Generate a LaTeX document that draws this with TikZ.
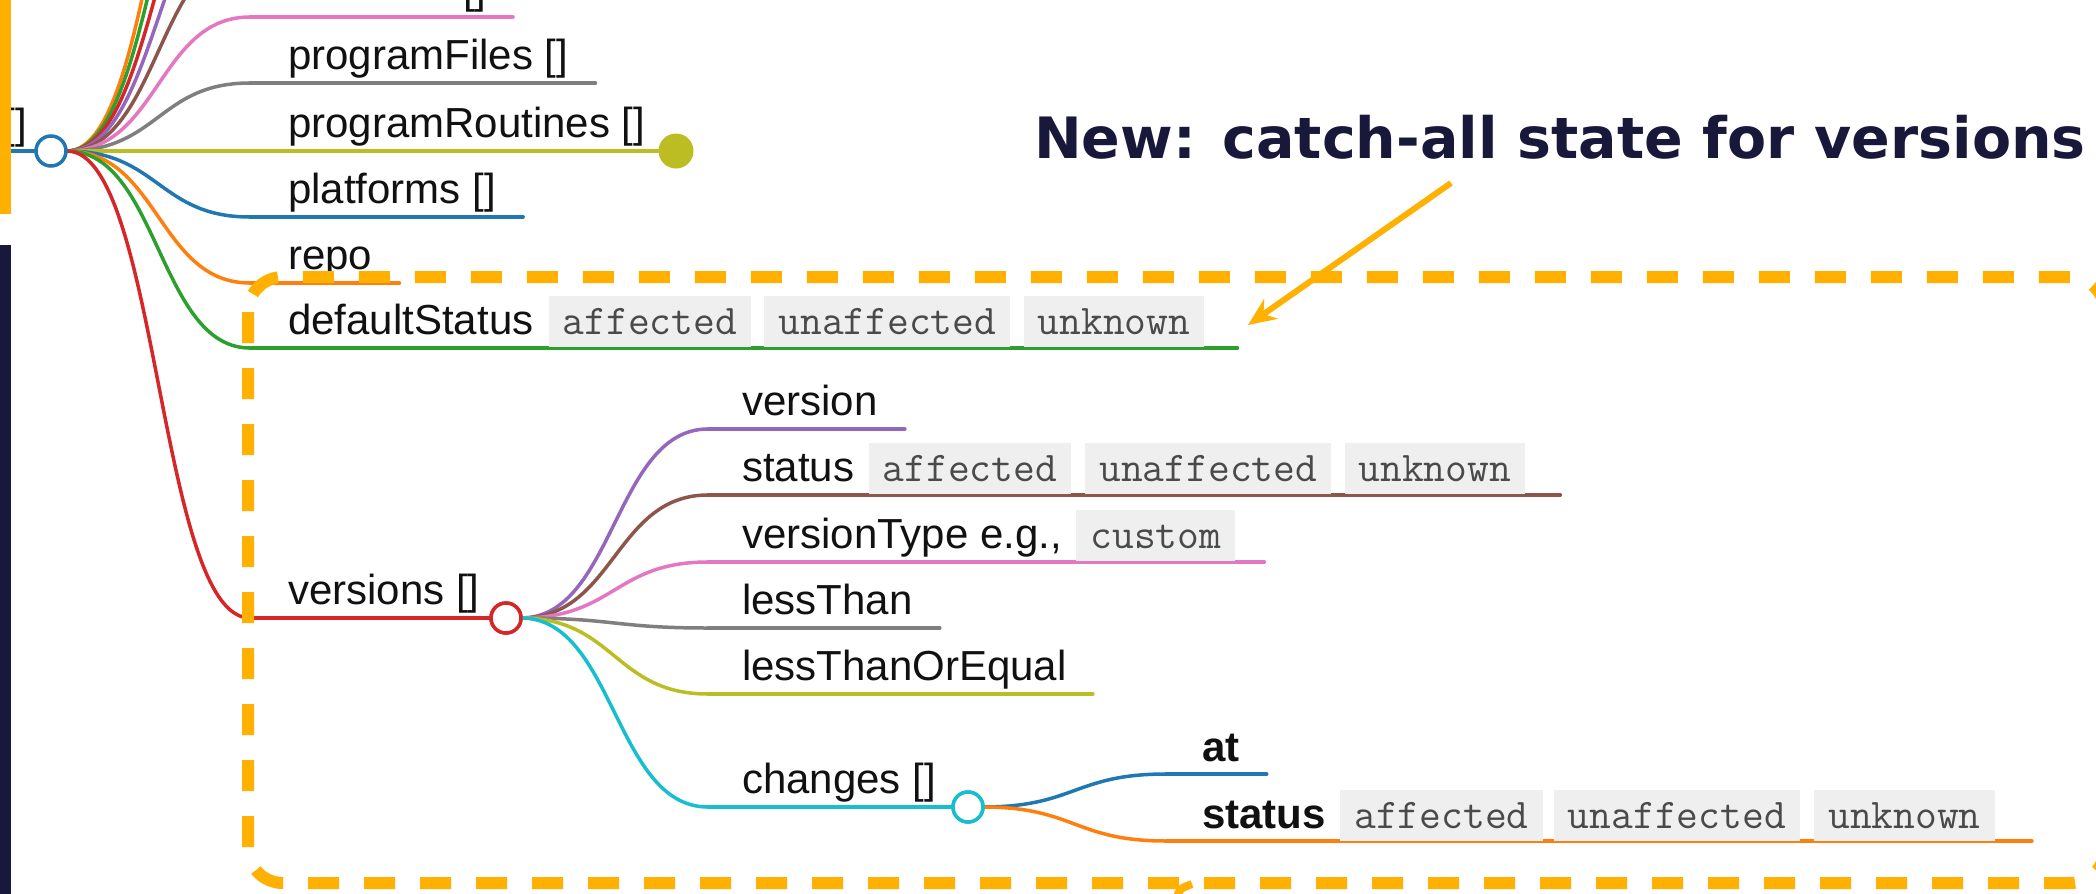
\documentclass[tikz,border=0pt]{standalone}
\usepackage{fontspec}
\setmainfont{Liberation Sans}
\newfontfamily\titlefam{DejaVu Sans}
\usetikzlibrary{calc,arrows.meta}

\definecolor{mmblue}{HTML}{1F77B4}
\definecolor{mmorange}{HTML}{FF7F0E}
\definecolor{mmgreen}{HTML}{2CA02C}
\definecolor{mmred}{HTML}{D62728}
\definecolor{mmpurple}{HTML}{9467BD}
\definecolor{mmbrown}{HTML}{8C564B}
\definecolor{mmpink}{HTML}{E377C2}
\definecolor{mmgray}{HTML}{7F7F7F}
\definecolor{mmolive}{HTML}{BCBD22}
\definecolor{mmcyan}{HTML}{17BECF}
\definecolor{amber}{HTML}{FFB000}
\definecolor{navy}{HTML}{18183A}
\definecolor{chipfill}{HTML}{EFEFEF}
\definecolor{chiptext}{HTML}{4A4A4A}
\definecolor{ink}{HTML}{111111}

% horizontal tree link: cubic with both controls at the mid x
\newcommand\mmlink[3]{\draw[branch,#1] (#2) .. controls ($(#2)!.5!(#2 -| #3)$) and ($(#3 -| #2)!.5!(#3)$) .. (#3);}
\newcommand\chipfont{\ttfamily\addfontfeature{FakeBold=1.5}\fontsize{42.3}{50}\selectfont}

\tikzset{
  branch/.style={line width=3.5pt, line cap=round},
  lbl/.style={inner sep=0pt, anchor=base west, text=ink, font=\fontsize{42}{50}\selectfont},
  blbl/.style={lbl, font=\bfseries\fontsize{42}{50}\selectfont},
  chip/.style={anchor=base west, fill=chipfill, text=chiptext, inner xsep=14pt, inner ysep=0pt,
    text height=38pt, text depth=13pt, font=\chipfont},
  hubdot/.style={circle, fill=white, line width=3.5pt, minimum size=30pt, inner sep=0pt},
  dashbox/.style={amber, line width=12pt, dash pattern=on 31pt off 25pt, rounded corners=35pt},
}

\begin{document}
\begin{tikzpicture}[x=1pt,y=-1pt]
\useasboundingbox (0,0) rectangle (2096,894);
\fill[white] (0,0) rectangle (2096,894);

% ---------- root ----------
\coordinate (rootE) at (67,151);
\coordinate (rootW) at (-10,151);
\draw[branch, mmblue] (rootW) -- (51,151);

% branches leaving through the top
\coordinate (kOr) at (250,-315);
\coordinate (kGr) at (250,-249);
\coordinate (kRd) at (250,-182);
\coordinate (kPu) at (250,-116);
\coordinate (kBr) at (250,-49);
\mmlink{mmorange}{rootE}{kOr}
\mmlink{mmgreen}{rootE}{kGr}
\mmlink{mmred}{rootE}{kRd}
\mmlink{mmpurple}{rootE}{kPu}
\mmlink{mmbrown}{rootE}{kBr}

% modules (pink)
\coordinate (mdA) at (250,17);
\coordinate (mdB) at (513,17);
\mmlink{mmpink}{rootE}{mdA}
\draw[branch, mmpink] (mdA) -- (mdB);
\node[lbl] (mdT) at (463,3) {[]};

% programFiles
\coordinate (pfA) at (250,83);
\node[lbl] (pfT) at (288,69) {programFiles []};
\mmlink{mmgray}{rootE}{pfA}
\draw[branch, mmgray] (pfA) -- ($(pfT.base east)+(27,14)$);

% programRoutines (collapsed)
\node[lbl] (prT) at (288,137) {programRoutines []};
\coordinate (prEnd) at (676,151);
\draw[branch, mmolive] (rootE) -- (prEnd);
\node[circle, fill=mmolive, minimum size=35pt, inner sep=0pt] (prDot) at (prEnd) {};

% platforms
\coordinate (plA) at (250,217);
\node[lbl] (plT) at (288,203) {platforms []};
\mmlink{mmblue}{rootE}{plA}
\draw[branch, mmblue] (plA) -- ($(plT.base east)+(27,14)$);

% repo
\coordinate (rpA) at (250,283);
\node[lbl] (rpT) at (288,269) {repo};
\mmlink{mmorange}{rootE}{rpA}
\draw[branch, mmorange] (rpA) -- ($(rpT.base east)+(27,14)$);

% defaultStatus
\coordinate (dsA) at (250,348);
\node[lbl] (dsT) at (288,334) {defaultStatus};
\mmlink{mmgreen}{rootE}{dsA}
\node[chip] (ds1) at ($(dsT.base east)+(15,0)$) {affected};
\node[chip] (ds2) at ($(ds1.base east)+(13,0)$) {unaffected};
\node[chip] (ds3) at ($(ds2.base east)+(13,0)$) {unknown};
\draw[branch, mmgreen] (dsA) -- ($(ds3.base east)+(33,14)$);
\node[chip] at (ds1.base west) {affected};
\node[chip] at (ds2.base west) {unaffected};
\node[chip] at (ds3.base west) {unknown};

% versions
\coordinate (vsA) at (250,618);
\node[lbl] (vsT) at (288,604) {versions []};
\mmlink{mmred}{rootE}{vsA}
\node[hubdot, draw=mmred] (vs) at (506,618) {};
\draw[branch, mmred] (vsA) -- (vs.west);

% root hub drawn over its links
\node[hubdot, draw=mmblue] (root) at (51,151) {};
\node[lbl, anchor=base east] (rootT) at (27,138) {[]};

% ---------- versions children ----------
\coordinate (vsE) at (521,618);
\coordinate (veA) at (708,429);
\coordinate (stA) at (708,495);
\coordinate (vtA) at (708,562);
\coordinate (ltA) at (708,628);
\coordinate (leA) at (708,694);
\coordinate (chA) at (708,807);
\mmlink{mmpurple}{vsE}{veA}
\mmlink{mmbrown}{vsE}{stA}
\mmlink{mmpink}{vsE}{vtA}
\mmlink{mmgray}{vsE}{ltA}
\mmlink{mmolive}{vsE}{leA}
\mmlink{mmcyan}{vsE}{chA}
\node[hubdot, draw=mmred] at (vs) {};

\node[lbl] (veT) at (742,415) {version};
\draw[branch, mmpurple] (veA) -- ($(veT.base east)+(27,14)$);

\node[lbl] (stT) at (742,481) {status};
\node[chip] (st1) at ($(stT.base east)+(14,0)$) {affected};
\node[chip] (st2) at ($(st1.base east)+(14,0)$) {unaffected};
\node[chip] (st3) at ($(st2.base east)+(13,0)$) {unknown};
\draw[branch, mmbrown] (stA) -- ($(st3.base east)+(35,14)$);
\node[chip] at (st1.base west) {affected};
\node[chip] at (st2.base west) {unaffected};
\node[chip] at (st3.base west) {unknown};

\node[lbl] (vtT) at (742,548) {versionType e.g.,};
\node[chip] (vt1) at ($(vtT.base east)+(14,0)$) {custom};
\draw[branch, mmpink] (vtA) -- ($(vt1.base east)+(29,14)$);
\node[chip] at (vt1.base west) {custom};

\node[lbl] (ltT) at (742,614) {lessThan};
\draw[branch, mmgray] (ltA) -- ($(ltT.base east)+(27,14)$);

\node[lbl] (leT) at (742,680) {lessThanOrEqual};
\draw[branch, mmolive] (leA) -- ($(leT.base east)+(26,14)$);

\node[lbl] (chT) at (742,793) {changes []};
\node[hubdot, draw=mmcyan] (ch) at (968,807) {};
\draw[branch, mmcyan] (chA) -- (ch.west);

% ---------- changes children ----------
\coordinate (chE) at (983,807);
\coordinate (atA) at (1166,774);
\coordinate (csA) at (1166,841);
\mmlink{mmblue}{chE}{atA}
\mmlink{mmorange}{chE}{csA}
\node[hubdot, draw=mmcyan] at (ch) {};

\node[blbl] (atT) at (1202,761) {at};
\draw[branch, mmblue] (atA) -- ($(atT.base east)+(27,13)$);

\node[blbl] (csT) at (1202,828) {status};
\node[chip] (cs1) at ($(csT.base east)+(14,0)$) {affected};
\node[chip] (cs2) at ($(cs1.base east)+(11,0)$) {unaffected};
\node[chip] (cs3) at ($(cs2.base east)+(14,0)$) {unknown};
\draw[branch, mmorange] (csA) -- ($(cs3.base east)+(37,13)$);
\node[chip] at (cs1.base west) {affected};
\node[chip] at (cs2.base west) {unaffected};
\node[chip] at (cs3.base west) {unknown};

% ---------- highlight frame and callout ----------
\draw[dashbox] (248,277) rectangle (2105,883);
\draw[amber, line width=8pt] (1177,899) .. controls (1179,889) .. (1192,884);

\node[anchor=base west, inner sep=0pt, text=navy,
      font=\titlefam\bfseries\fontsize{57}{68}\selectfont] (title) at (1034,158)
      {New: catch-all state for versions};
\coordinate (arT) at (1451,183);
\coordinate (arH) at (1248,325);
\draw[amber, line width=6pt, -{Stealth[length=28pt,width=24pt]}] (arT) -- (arH);

% ---------- side bars ----------
\fill[amber] (0,0) rectangle (11,214);
\fill[navy] (0,245) rectangle (11,894);
\end{tikzpicture}
\end{document}
